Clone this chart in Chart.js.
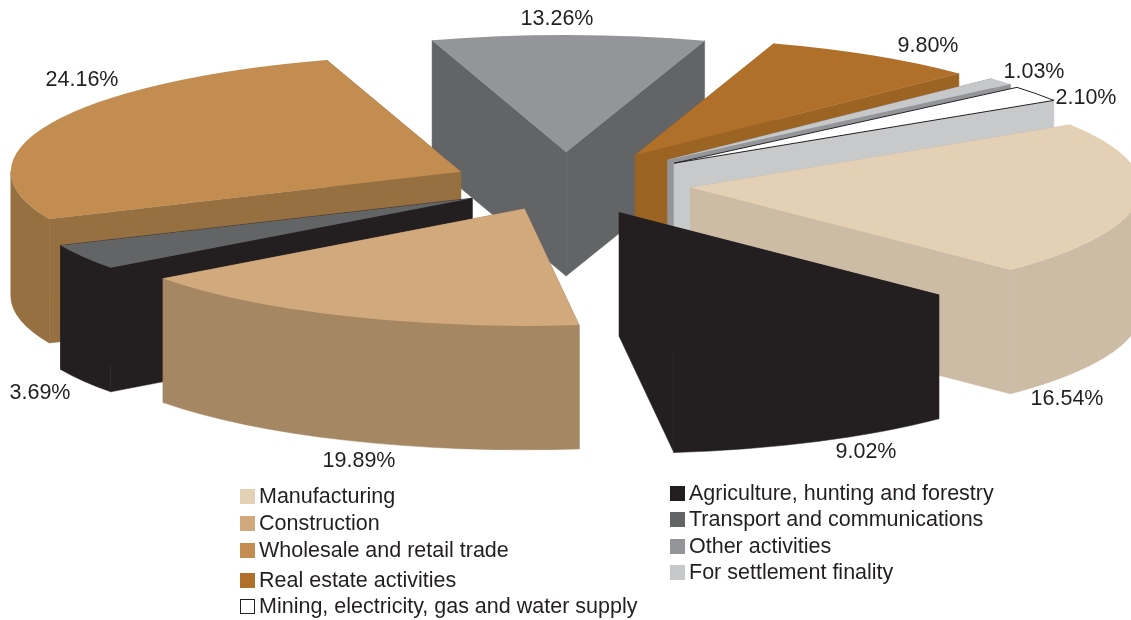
<!DOCTYPE html>
<html>
<head>
<meta charset="utf-8">
<title>Exploded pie</title>
<script src="https://cdn.jsdelivr.net/npm/chart.js@4/dist/chart.umd.min.js"></script>
<style>
    html, body { margin: 0; padding: 0; background: #ffffff; }
    canvas { display: block; }
</style>
</head>
<body>
<canvas id="chart1" width="1131" height="620"></canvas>
<script>
// Slices, clockwise
const categories = ['Manufacturing', 'Agriculture, hunting and forestry', 'Construction', 'Transport and communications',
    'Wholesale and retail trade', 'Other activities', 'Real estate activities', 'For settlement finality',
    'Mining, electricity, gas and water supply'];
const shares = [16.54, 9.02, 19.89, 3.69, 24.16, 13.26, 9.80, 1.03, 2.10];

// Slice styling
const topColors = ['#e4d1b5', '#231f20', '#d1a97c', '#636466', '#c38d51', '#939598', '#b1702a', '#c7c8ca', '#ffffff'];
const sideColors = ['#ccbba5', '#231f20', '#a58763', '#231f20', '#967040', '#636466', '#9c6423', '#939598', '#c7c9cb'];
const explode = [126, 122, 104, 108, 115, 123, 132, 138, 135];

// Percent label centres
const labelX = [1067, 866, 359, 40, 82, 557, 928, 1034, 1086];
const labelY = [399.5, 452.5, 461.5, 393.5, 80.5, 19.5, 46.5, 72.5, 98.5];

// Legend columns
const legendLeft = ['Manufacturing', 'Construction', 'Wholesale and retail trade', 'Real estate activities', 'Mining, electricity, gas and water supply'];
const legendLeftY = [496, 523, 550, 580, 606];
const legendRight = ['Agriculture, hunting and forestry', 'Transport and communications', 'Other activities', 'For settlement finality'];
const legendRightY = [493, 519, 546, 572];

const tilt = 0.26;   // flattening of the pie
const depth = 124;   // height of the walls
const textColor = '#231f20';
const font = '21.5px "Liberation Sans"';

// The drawing is in perspective, so its edges sit a few degrees off the true angles
function perspectiveAngle(rad) {
    const t = rad * 180 / Math.PI + 90;
    const c = (d) => Math.cos(d * Math.PI / 180);
    return rad + (5.2 + 8 * c(2 * (t - 150)) + 5.7 * c(t - 227)) * Math.PI / 180;
}

const pie3d = {
    id: 'pie3d',
    afterDatasetsUpdate(chart) {
        chart.getDatasetMeta(0).data.forEach((arc) => {
            const start = perspectiveAngle(arc.startAngle);
            const end = perspectiveAngle(arc.endAngle);
            arc.startAngle = start;
            arc.endAngle = end;
            arc.circumference = end - start;
        });
    },
    beforeDatasetDraw(chart) {
        const ctx = chart.ctx;
        const arcs = chart.getDatasetMeta(0).data;

        // Far slices first, near slices paint over them
        const apexOf = (arc, i) => {
            const mid = (arc.startAngle + arc.endAngle) / 2;
            return { x: arc.x + Math.cos(mid) * explode[i], y: arc.y + Math.sin(mid) * explode[i] * tilt };
        };
        const order = arcs.map((arc, i) => i).sort((a, b) => apexOf(arcs[a], a).y - apexOf(arcs[b], b).y);

        order.forEach((i) => {
            const arc = arcs[i];
            const a = apexOf(arc, i);
            const r = arc.outerRadius;
            const rimX = (t) => a.x + r * Math.cos(t);
            const rimY = (t) => a.y + r * tilt * Math.sin(t);

            // Walls
            ctx.save();
            ctx.fillStyle = sideColors[i];
            ctx.strokeStyle = sideColors[i];
            ctx.lineWidth = 0.5;
            // Only the near half of the rim shows. Filling past the side of the
            // ellipse would cancel out where the band overlaps itself
            for (let k = -1; k <= 1; k++) {
                const from = Math.max(arc.startAngle, 2 * Math.PI * k);
                const to = Math.min(arc.endAngle, 2 * Math.PI * k + Math.PI);
                if (to <= from) continue;
                ctx.beginPath();
                ctx.ellipse(a.x, a.y, r, r * tilt, 0, from, to);
                ctx.ellipse(a.x, a.y + depth, r, r * tilt, 0, to, from, true);
                ctx.closePath();
                ctx.fill();
                ctx.stroke();
            }
            [arc.startAngle, arc.endAngle].forEach((t) => {
                ctx.beginPath();
                ctx.moveTo(a.x, a.y);
                ctx.lineTo(rimX(t), rimY(t));
                ctx.lineTo(rimX(t), rimY(t) + depth);
                ctx.lineTo(a.x, a.y + depth);
                ctx.closePath();
                ctx.fill();
                ctx.stroke();
            });
            ctx.restore();

            // Top face, drawn by the arc element itself
            ctx.save();
            ctx.translate(a.x, a.y);
            ctx.scale(1, tilt);
            ctx.translate(-arc.x, -arc.y);
            arc.draw(ctx, chart.chartArea);
            ctx.restore();

            // White slice needs an outline
            if (topColors[i] === '#ffffff') {
                ctx.save();
                ctx.strokeStyle = textColor;
                ctx.lineWidth = 1;
                ctx.beginPath();
                ctx.moveTo(a.x, a.y);
                ctx.ellipse(a.x, a.y, r, r * tilt, 0, arc.startAngle, arc.endAngle);
                ctx.closePath();
                ctx.stroke();
                ctx.restore();
            }
        });
        return false;
    },
    afterDraw(chart) {
        const ctx = chart.ctx;
        ctx.save();
        ctx.font = font;
        ctx.fillStyle = textColor;
        ctx.textBaseline = 'middle';

        ctx.textAlign = 'center';
        shares.forEach((v, i) => ctx.fillText(v.toFixed(2) + '%', labelX[i], labelY[i]));

        ctx.textAlign = 'left';
        const column = (names, ys, boxX, textX) => names.forEach((name, n) => {
            const i = categories.indexOf(name);
            ctx.fillStyle = topColors[i];
            ctx.fillRect(boxX, ys[n] - 7, 15, 15);
            if (topColors[i] === '#ffffff') {
                ctx.strokeStyle = textColor;
                ctx.lineWidth = 1;
                ctx.strokeRect(boxX + 0.5, ys[n] - 6.5, 14, 14);
            }
            ctx.fillStyle = textColor;
            ctx.fillText(name, textX, ys[n] + 1.5);
        });
        column(legendLeft, legendLeftY, 240, 259);
        column(legendRight, legendRightY, 670, 689);
        ctx.restore();
    }
};

const chart1 = new Chart(document.getElementById('chart1'), {
    type: 'pie',
    data: {
        labels: categories,
        datasets: [{
            data: shares,
            backgroundColor: topColors,
            borderWidth: 0,
            radius: 450
        }]
    },
    options: {
        responsive: false,
        animation: false,
        rotation: 65.6,
        layout: { padding: { bottom: 252 } },
        events: [],
        plugins: {
            legend: { display: false },
            tooltip: { enabled: false }
        }
    },
    plugins: [pie3d]
});
</script>
</body>
</html>
